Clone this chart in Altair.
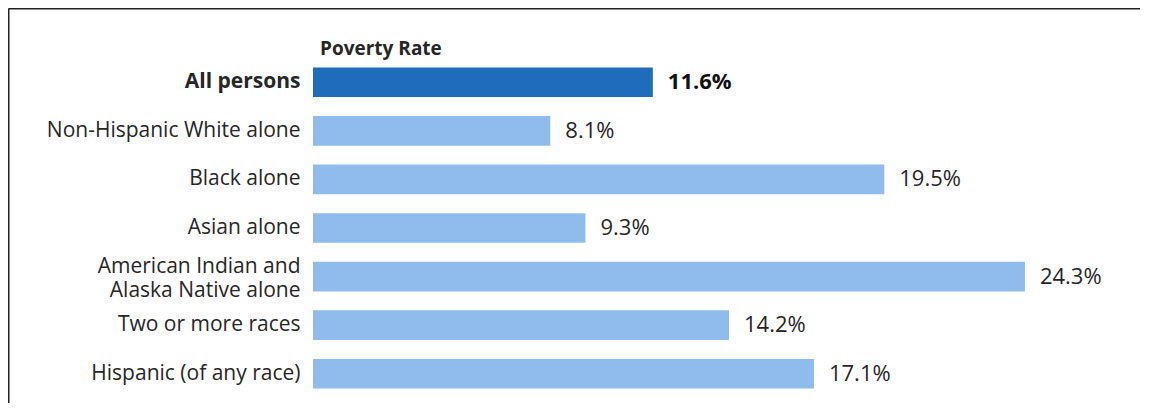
import altair as alt
import pandas as pd

categories = ["All persons", "Non-Hispanic White alone", "Black alone", "Asian alone",
              "American Indian and\nAlaska Native alone", "Two or more races",
              "Hispanic (of any race)"]
values = [11.6, 8.1, 19.5, 9.3, 24.3, 14.2, 17.1]
labels = ["11.6%", "8.1%", "19.5%", "9.3%", "24.3%", "14.2%", "17.1%"]

df = pd.DataFrame({"cat": categories, "val": values, "lab": labels})

FONT = "Open Sans"
TXT = "#262626"
DARK = "#1F6CBC"
LIGHT = "#8FBCEC"

PAD_L, PAD_T, PAD_R, PAD_B = 305, 50, 36, 5
W, H = 791, 340
LH = 24

y = alt.Y("cat:N", sort=categories, title=None,
          scale=alt.Scale(paddingInner=0.39, paddingOuter=0.195),
          axis=alt.Axis(labelExpr="split(datum.label, '\\n')", labelFont=FONT,
                        labelFontSize=21, labelColor=TXT, labelPadding=13, labelLimit=0,
                        labelLineHeight=LH, ticks=False, domain=False, grid=False,
                        labelOffset={"condition": {"test": "length(split(datum.value, '\\n')) > 1",
                                                   "value": -9.5}, "value": 0},
                        labelFontWeight=alt.condition("datum.value == 'All persons'",
                                                      alt.value("bold"), alt.value("normal"))))
x = alt.X("val:Q", scale=alt.Scale(domain=[0, 27]), axis=None)

base = alt.Chart(df)
bars = base.mark_bar().encode(
    x=x, y=y,
    color=alt.condition(alt.datum.cat == "All persons", alt.value(DARK), alt.value(LIGHT)),
)
txt_all = base.transform_filter(alt.datum.cat == "All persons").mark_text(
    align="left", baseline="middle", dx=15, font=FONT, fontSize=22, fontWeight="bold", color="#111"
).encode(x=x, y=y, text="lab:N")
txt_rest = base.transform_filter(alt.datum.cat != "All persons").mark_text(
    align="left", baseline="middle", dx=15, font=FONT, fontSize=22, color=TXT
).encode(x=x, y=y, text="lab:N")

one = alt.Chart(pd.DataFrame({"t": ["Poverty Rate"]}))
title = one.mark_text(align="left", baseline="alphabetic", font=FONT, fontSize=19,
                      fontWeight="bold", color=TXT).encode(
    x=alt.value(7), y=alt.value(-3), text="t:N")
top_rule = one.mark_rule(color="#222", strokeWidth=1.5).encode(
    x=alt.value(-PAD_L + 0.5), x2=alt.value(W + PAD_R), y=alt.value(-PAD_T + 0.75))
left_rule = one.mark_rule(color="#222", strokeWidth=1.5).encode(
    x=alt.value(-PAD_L + 0.75), y=alt.value(-PAD_T + 0.5), y2=alt.value(H + PAD_B))

chart = alt.layer(bars, txt_all, txt_rest, title, top_rule, left_rule).properties(
    width=W, height=H,
    autosize=alt.AutoSizeParams(type="none"),
    padding={"left": PAD_L, "top": PAD_T, "right": PAD_R, "bottom": PAD_B},
).configure(background="white", view=alt.ViewConfig(stroke=None))

chart.save("out.html", embed_options={"renderer": "svg", "actions": False})
